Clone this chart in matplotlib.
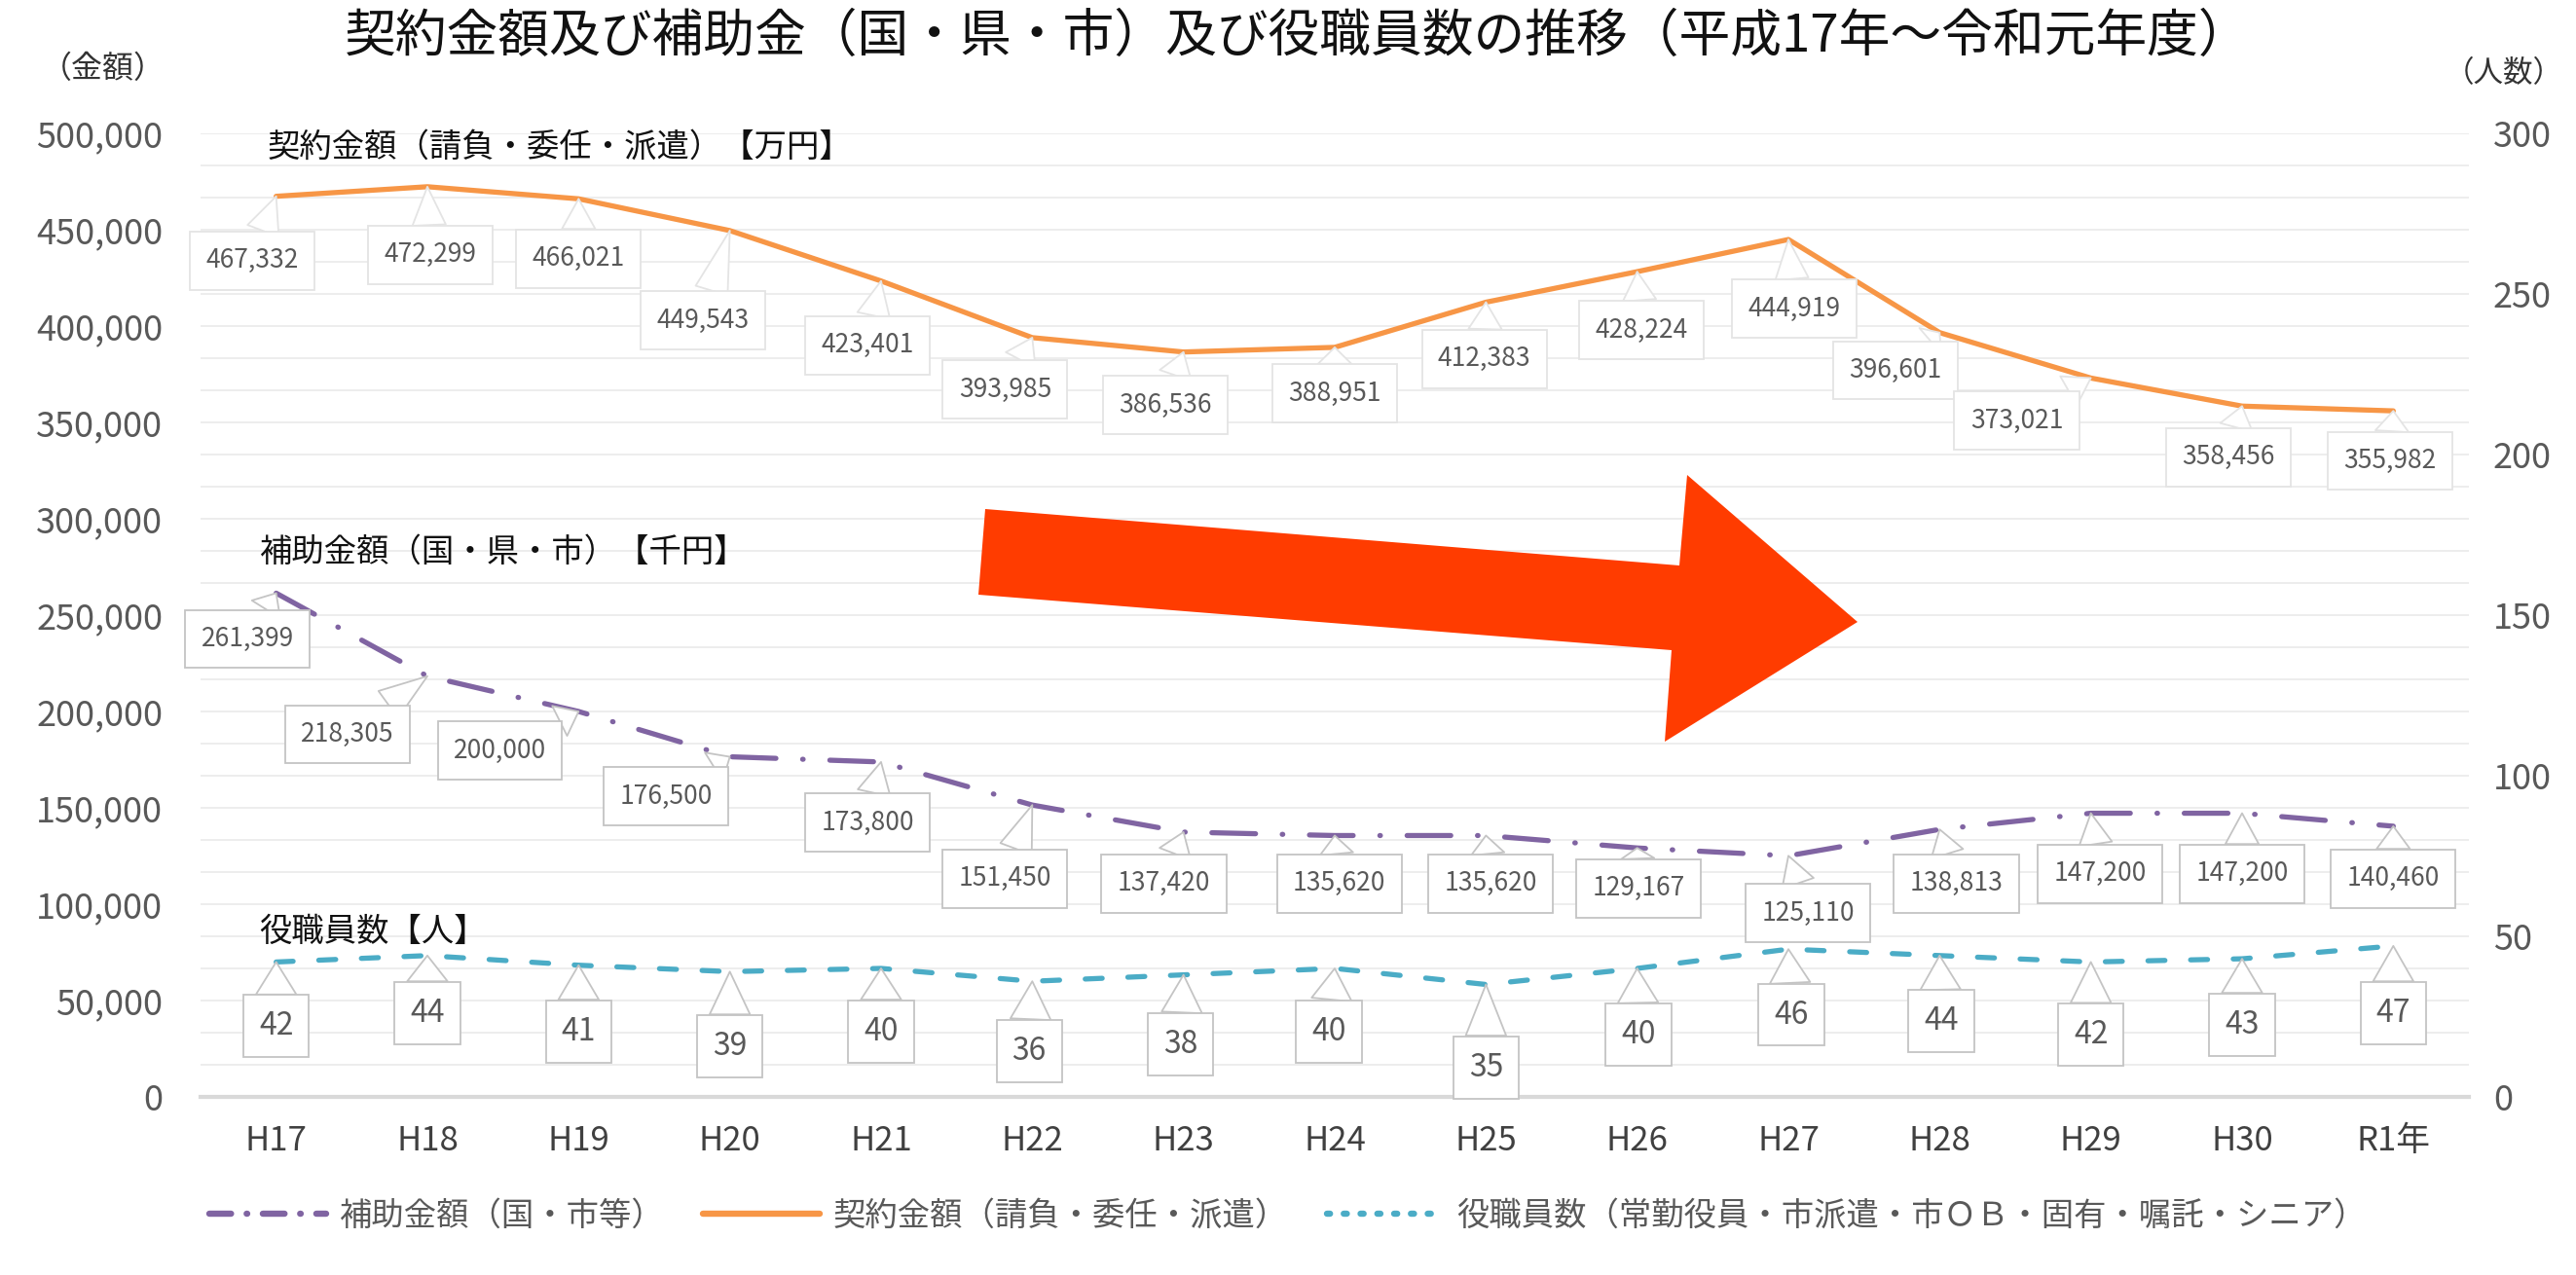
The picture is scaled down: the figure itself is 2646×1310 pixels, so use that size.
import numpy as np
import matplotlib.pyplot as plt
from matplotlib.patches import Polygon
from matplotlib.lines import Line2D
from matplotlib.ticker import FuncFormatter, FixedLocator

plt.rcParams['font.family'] = ['Noto Sans CJK JP', 'DejaVu Sans']

# データ
years = ['H17', 'H18', 'H19', 'H20', 'H21', 'H22', 'H23', 'H24', 'H25',
         'H26', 'H27', 'H28', 'H29', 'H30', 'R1年']
contract = [467332, 472299, 466021, 449543, 423401, 393985, 386536, 388951,
            412383, 428224, 444919, 396601, 373021, 358456, 355982]
subsidy = [261399, 218305, 200000, 176500, 173800, 151450, 137420, 135620,
           135620, 129167, 125110, 138813, 147200, 147200, 140460]
staff = [42, 44, 41, 39, 40, 36, 38, 40, 35, 40, 46, 44, 42, 43, 47]

# ラベル（吹き出し）の位置
contract_lab_dx = [-0.16, 0.02, 0.0, -0.18, -0.09, -0.18, -0.12, 0.0, -0.01,
                   0.03, 0.04, -0.29, -0.49, -0.09, -0.02]
contract_lab_y = [434e3, 437e3, 435e3, 403e3, 390e3, 367e3, 359e3, 365e3,
                  383e3, 398e3, 409e3, 377e3, 351e3, 332e3, 330e3]
subsidy_lab_dx = [-0.19, -0.53, -0.52, -0.42, -0.09, -0.18, -0.13, 0.03, 0.03,
                  0.01, 0.13, 0.11, 0.06, 0.0, 0.0]
subsidy_lab_y = [237.6e3, 188.2e3, 179.7e3, 155.9e3, 142.3e3, 113.3e3, 110.7e3,
                 110.7e3, 110.7e3, 108.2e3, 95.4e3, 110.7e3, 115.8e3, 115.8e3, 113.3e3]
staff_lab_dx = [0, 0, 0, 0, 0, -0.02, -0.02, -0.04, 0, 0.01, 0.02, 0.01, 0, 0, 0]
staff_lab_y = [22.0, 26.1, 20.4, 15.8, 20.4, 14.3, 16.4, 20.4, 9.2, 19.4,
               25.6, 23.5, 19.4, 22.5, 26.1]

# 矢印（ピクセル座標）
arrow_px = [(1012, 523), (1005, 611), (1717, 668), (1710, 762),
            (1908, 639), (1733, 488), (1725, 581)]

W, H = 2646, 1310
ORANGE = '#F79646'
PURPLE = '#8064A2'
TEAL = '#4BACC6'
GREY = '#595959'
LW = 3.8
PURPLE_DASH = (8.5, 5.2, 0.1, 5.2)
TEAL_DASH = (3.3, 5)

fig = plt.figure(figsize=(W / 100, H / 100), dpi=100)
ax = fig.add_axes([206 / W, 1 - 1127 / H, (2536 - 206) / W, (1127 - 137) / H])
ax2 = ax.twinx()

x = np.arange(len(years))
ax.set_xlim(-0.5, len(years) - 0.5)
ax.set_ylim(0, 500000)
ax2.set_ylim(0, 300)

# グリッド
ax.yaxis.set_minor_locator(FixedLocator(np.linspace(0, 500000, 31)))
ax.grid(axis='y', which='both', color='#ececec', lw=1.3)
ax.set_axisbelow(True)

ax.plot(x, contract, color=ORANGE, lw=LW, solid_capstyle='round', zorder=3)
ax.plot(x, subsidy, color=PURPLE, lw=LW, dashes=PURPLE_DASH,
        dash_capstyle='round', zorder=3)
ax2.plot(x, staff, color=TEAL, lw=LW, dashes=TEAL_DASH,
         dash_capstyle='round', zorder=3)


def callouts(a, vals, dxs, ys, size, fmt, edge, pad):
    box = dict(boxstyle=f'square,pad={pad}', fc='white', ec=edge, lw=1.3)
    wedge = dict(arrowstyle='wedge,tail_width=1.3,shrink_factor=0.5',
                 fc='white', ec=edge, lw=1.3, shrinkA=0, shrinkB=0)
    for i, v in enumerate(vals):
        a.annotate(fmt(v), xy=(i, v), xytext=(i + dxs[i], ys[i]),
                   ha='center', va='center', fontsize=size, color=GREY,
                   bbox=box, arrowprops=wedge, zorder=5)


callouts(ax, contract, contract_lab_dx, contract_lab_y, 19,
         lambda v: f'{v:,}', '#e4e4e4', 0.62)
callouts(ax, subsidy, subsidy_lab_dx, subsidy_lab_y, 19,
         lambda v: f'{v:,}', '#c4c4c4', 0.62)
callouts(ax2, staff, staff_lab_dx, staff_lab_y, 23,
         lambda v: f'{v}', '#c4c4c4', 0.5)

# 系列名
ax.text(-0.06, 488000, '契約金額（請負・委任・派遣）【万円】', fontsize=24, color='#111111')
ax.text(-0.11, 278000, '補助金額（国・県・市）【千円】', fontsize=24, color='#111111')
ax.text(-0.11, 81000, '役職員数【人】', fontsize=24, color='#111111')

# 軸
for a in (ax, ax2):
    for s in a.spines.values():
        s.set_visible(False)
ax.spines['bottom'].set_visible(True)
ax.spines['bottom'].set_color('#d9d9d9')
ax.spines['bottom'].set_linewidth(3)

ax.set_xticks(x, years)
ax.tick_params(axis='x', length=0, pad=20, labelsize=25, labelcolor='#404040')
ax.yaxis.set_major_formatter(FuncFormatter(lambda v, p: f'{int(v):,}'))
ax.set_yticks(np.arange(0, 500001, 50000))
ax.tick_params(axis='y', which='both', length=0, pad=28, labelsize=26, labelcolor=GREY)
ax2.set_yticks(np.arange(0, 301, 50))
ax2.tick_params(axis='y', length=0, pad=18, labelsize=26, labelcolor=GREY)

fig.text(106 / W, 1 - 71 / H, '（金額）', fontsize=23, color='#333333', ha='center', va='center')
fig.text(2572 / W, 1 - 76 / H, '（人数）', fontsize=22, color='#333333', ha='center', va='center')
fig.text(1333 / W, 1 - 37 / H, '契約金額及び補助金（国・県・市）及び役職員数の推移（平成17年～令和元年度）',
         fontsize=38, color='#111111', ha='center', va='center')

# 赤い矢印
fig.patches.append(Polygon([(px / W, 1 - py / H) for px, py in arrow_px], closed=True,
                           transform=fig.transFigure, fc='#ff3c00', ec='none', zorder=10))

# 凡例
handles = [
    Line2D([], [], color=PURPLE, lw=LW + 0.8, dashes=(3.5, 2.5, 0.1, 2.5), dash_capstyle='round'),
    Line2D([], [], color=ORANGE, lw=LW + 0.8, solid_capstyle='round'),
    Line2D([], [], color=TEAL, lw=LW + 0.8, dashes=(0.5, 2.2), dash_capstyle='round'),
]
labels = ['補助金額（国・市等）', '契約金額（請負・委任・派遣）',
          '役職員数（常勤役員・市派遣・市ＯＢ・固有・嘱託・シニア）']
fig.legend(handles, labels, loc='center', bbox_to_anchor=(0.5, 1 - 1249 / H), ncol=3,
           frameon=False, fontsize=24, labelcolor=GREY, handlelength=3.6,
           columnspacing=1.2, handletextpad=0.4)

fig.savefig('out.png', dpi=100)
